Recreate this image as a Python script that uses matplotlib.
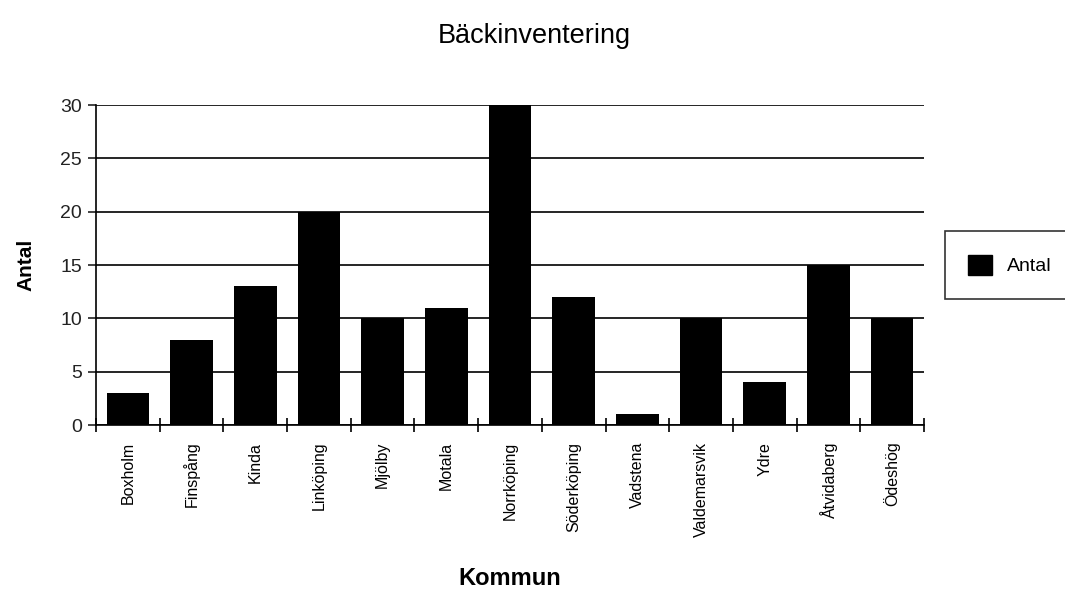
import matplotlib
matplotlib.use("Agg")
import matplotlib.pyplot as plt
from matplotlib.patches import Patch

plt.rcParams["font.family"] = ["Liberation Sans", "DejaVu Sans"]

kommuner = ["Boxholm", "Finspång", "Kinda", "Linköping", "Mjölby", "Motala",
            "Norrköping", "Söderköping", "Vadstena", "Valdemarsvik", "Ydre",
            "Åtvidaberg", "Ödeshög"]
antal = [3, 8, 13, 20, 10, 11, 30, 12, 1, 10, 4, 15, 10]
y_ticks = [0, 5, 10, 15, 20, 25, 30]

fig = plt.figure(figsize=(10.65, 5.92), dpi=100)
ax = fig.add_axes([96 / 1065, 167 / 592, 828 / 1065, 320 / 592])

x = range(len(kommuner))
ax.bar(x, antal, width=0.67, color="black", zorder=3)

ax.set_xlim(-0.5, len(kommuner) - 0.5)
ax.set_ylim(0, 30)
ax.set_yticks(y_ticks)
ax.yaxis.grid(True, color="black", linewidth=1.2, zorder=1)
ax.tick_params(axis="y", length=6, width=1.2, labelsize=14, pad=4, colors="#222222")

# category labels in the middle, ticks on the boundaries
ax.set_xticks(list(x))
ax.set_xticklabels(kommuner, rotation=90, fontsize=11.5)
ax.tick_params(axis="x", which="major", length=0, pad=12)
ax.set_xticks([i - 0.5 for i in range(len(kommuner) + 1)], minor=True)
ax.tick_params(axis="x", which="minor", direction="inout", length=10, width=1.2)

for side in ["top", "right"]:
    ax.spines[side].set_visible(False)
ax.spines["left"].set_linewidth(1.2)
ax.spines["bottom"].set_linewidth(1.2)

ax.set_ylabel("Antal", fontsize=15, fontweight="bold", labelpad=18)
ax.set_xlabel("Kommun", fontsize=17, fontweight="bold", labelpad=22)
fig.text(534 / 1065, 1 - 36 / 592, "Bäckinventering", ha="center", va="center", fontsize=19.5)

handle = Patch(facecolor="black", edgecolor="black")
leg = fig.legend([handle], ["Antal"], loc="center left",
                 bbox_to_anchor=(945 / 1065, 1 - 265 / 592), fontsize=14,
                 frameon=True, fancybox=False, edgecolor="black",
                 handlelength=1.2, handleheight=1.2, borderpad=1.2,
                 borderaxespad=0)
leg.get_frame().set_linewidth(1.2)

fig.savefig("out.png", dpi=100)
